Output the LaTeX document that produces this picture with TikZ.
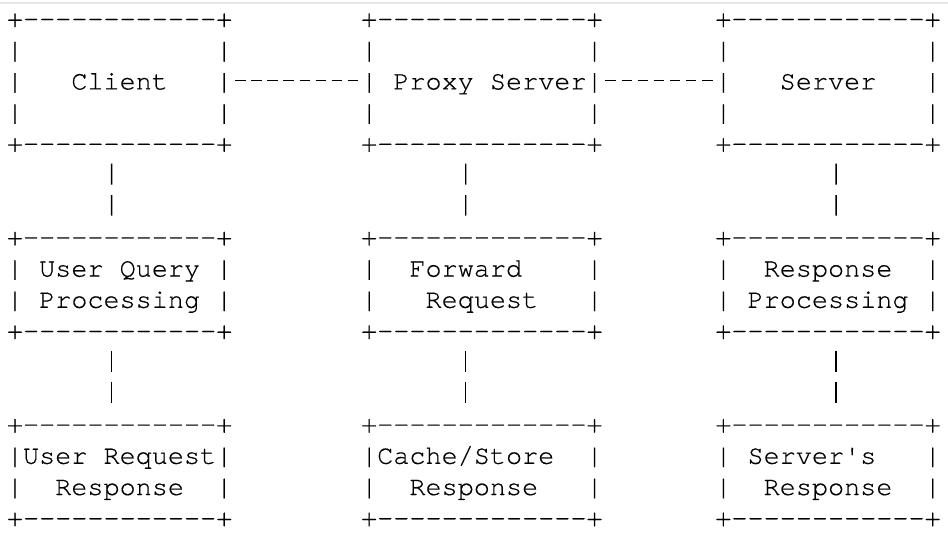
\documentclass[tikz,border=0pt]{standalone}
\usepackage{fontspec}
\setmonofont{TeX Gyre Cursor}[FakeBold=0.4]
\usetikzlibrary{calc}
\newcommand\asciirow[1]{\hbox{\vrule height 24.6pt depth 6.6pt width 0pt\relax#1}}
\tikzset{
  asciibox/.style={inner sep=0pt, outer sep=0pt, anchor=base west, font=\ttfamily\fontsize{26.83pt}{31.2pt}\selectfont},
  dashlink/.style={line width=1.4pt, dash pattern=on 10.5pt off 5.6pt, shorten <=2.8pt, shorten >=2.8pt},
  barlink/.style={line width=1.4pt, dash pattern=on 21pt off 10.4pt, shorten <=5.2pt, shorten >=5.2pt},
}
\begin{document}
\begin{tikzpicture}[x=1pt,y=1pt,yscale=-1,xscale=1]
\useasboundingbox (0,0) rectangle (948,538);
%Straight Lines: top edge
\draw [color=black!10, line width=2pt] (0,3) -- (948,3);

%Text Node: first row
\node [asciibox] (client) at (6.95,27) {\vtop{\offinterlineskip
  \asciirow{+------------+}\asciirow{|~~~~~~~~~~~~|}\asciirow{|~~~Client~~~|}\asciirow{|~~~~~~~~~~~~|}\asciirow{+------------+}}};
\node [asciibox] (proxy) at (361.15,27) {\vtop{\offinterlineskip
  \asciirow{+-------------+}\asciirow{|~~~~~~~~~~~~~|}\asciirow{|~Proxy~Server|}\asciirow{|~~~~~~~~~~~~~|}\asciirow{+-------------+}}};
\node [asciibox] (server) at (715.35,27) {\vtop{\offinterlineskip
  \asciirow{+------------+}\asciirow{|~~~~~~~~~~~~|}\asciirow{|~~~Server~~~|}\asciirow{|~~~~~~~~~~~~|}\asciirow{+------------+}}};

%Text Node: second row
\node [asciibox] (query) at (6.95,245.4) {\vtop{\offinterlineskip
  \asciirow{+------------+}\asciirow{|~User~Query~|}\asciirow{|~Processing~|}\asciirow{+------------+}}};
\node [asciibox] (forward) at (361.15,245.4) {\vtop{\offinterlineskip
  \asciirow{+-------------+}\asciirow{|~~Forward~~~~|}\asciirow{|~~~Request~~~|}\asciirow{+-------------+}}};
\node [asciibox] (respproc) at (715.35,245.4) {\vtop{\offinterlineskip
  \asciirow{+------------+}\asciirow{|~~Response~~|}\asciirow{|~Processing~|}\asciirow{+------------+}}};

%Text Node: third row
\node [asciibox] (userresp) at (6.95,432.6) {\vtop{\offinterlineskip
  \asciirow{+------------+}\asciirow{|User~Request|}\asciirow{|~~Response~~|}\asciirow{+------------+}}};
\node [asciibox] (cache) at (361.15,432.6) {\vtop{\offinterlineskip
  \asciirow{+-------------+}\asciirow{|Cache/Store~~|}\asciirow{|~~Response~~~|}\asciirow{+-------------+}}};
\node [asciibox] (srvresp) at (715.35,432.6) {\vtop{\offinterlineskip
  \asciirow{+------------+}\asciirow{|~Server's~~~|}\asciirow{|~~Response~~|}\asciirow{+------------+}}};

%Straight Lines: horizontal links
\draw [dashlink] ($(client.base east)+(0,53.4)$) -- ($(proxy.base west)+(0,53.4)$);
\draw [dashlink] ($(proxy.base east)+(0,53.4)$) -- ($(server.base west)+(0,53.4)$);

%Straight Lines: vertical links
\draw [barlink] ($(client.south)+(-8.05,0)$) -- ($(query.north)+(-8.05,0)$);
\draw [barlink] ($(proxy.south)+(-16.1,0)$) -- ($(forward.north)+(-16.1,0)$);
\draw [barlink] ($(server.south)+(8.05,0)$) -- ($(respproc.north)+(8.05,0)$);
\draw [barlink] ($(query.south)+(-8.05,0)$) -- ($(userresp.north)+(-8.05,0)$);
\draw [barlink] ($(forward.south)+(-16.1,0)$) -- ($(cache.north)+(-16.1,0)$);
\draw [barlink] ($(respproc.south)+(8.05,0)$) -- ($(srvresp.north)+(8.05,0)$);

\end{tikzpicture}
\end{document}
